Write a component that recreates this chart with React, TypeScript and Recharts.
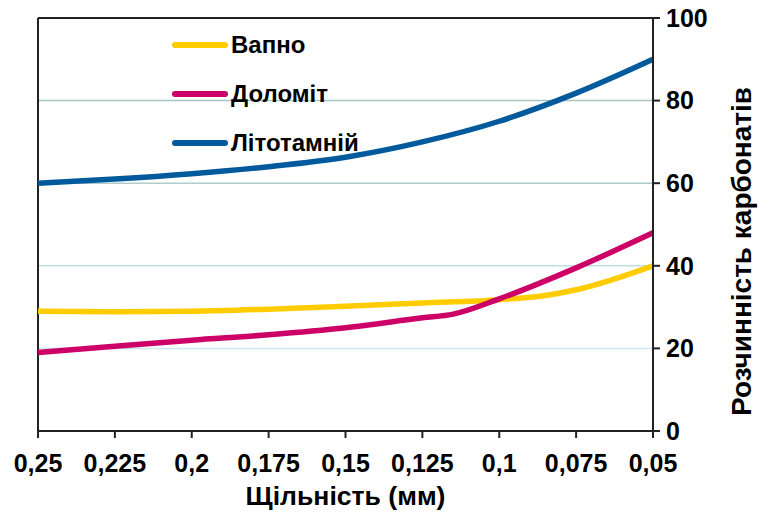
import { CartesianGrid, Line, LineChart, ReferenceLine, XAxis, YAxis } from 'recharts'

// Щільність (мм) — x values, reversed axis 0,25 → 0,05
const xTicks = [0.25, 0.225, 0.2, 0.175, 0.15, 0.125, 0.1, 0.075, 0.05]
const yTicks = [0, 20, 40, 60, 80, 100]

const vapnoX = [0.25, 0.225, 0.2, 0.175, 0.15, 0.125, 0.1, 0.085, 0.075, 0.05]
const vapnoY = [29, 28.9, 29, 29.5, 30.2, 31, 31.8, 32.8, 34.2, 40]

const dolomitX = [0.25, 0.225, 0.2, 0.175, 0.15, 0.125, 0.115, 0.1, 0.075, 0.05]
const dolomitY = [19, 20.5, 22, 23.3, 25, 27.4, 28.3, 32, 39.5, 48]

const litoX = [0.25, 0.225, 0.2, 0.175, 0.15, 0.125, 0.1, 0.075, 0.05]
const litoY = [60, 61, 62.3, 64, 66.3, 70, 75, 81.8, 90]

const gridLines = [
  { value: 80, color: '#a8c4c4' },
  { value: 60, color: '#b0cccc' },
  { value: 40, color: '#bcdfe2' },
  { value: 20, color: '#c8e8ec' },
]

const toPoints = (xs: number[], ys: number[]) => xs.map((x, i) => ({ x, y: ys[i] }))

const series = [
  { name: 'Вапно', color: '#ffcc00', data: toPoints(vapnoX, vapnoY) },
  { name: 'Доломіт', color: '#cc0066', data: toPoints(dolomitX, dolomitY) },
  { name: 'Літотамній', color: '#005a9c', data: toPoints(litoX, litoY) },
]

const font = '"Liberation Sans", Arial, sans-serif'
const tickStyle = { fill: '#000', fontSize: 25, fontWeight: 700, fontFamily: font }
const fmt = (v: number) => String(v).replace('.', ',')

function YTitle({ viewBox }: any) {
  const x = viewBox.x + viewBox.width - 16
  const y = viewBox.y + viewBox.height / 2 + 27
  return (
    <text
      x={x}
      y={y}
      transform={`rotate(-90, ${x}, ${y})`}
      textAnchor="middle"
      dominantBaseline="central"
      textLength={329}
      lengthAdjust="spacingAndGlyphs"
      style={{ ...tickStyle, fontSize: 27 }}
    >
      Розчинність карбонатів
    </text>
  )
}

function XTitle({ viewBox }: any) {
  const x = viewBox.x + viewBox.width / 2
  return (
    <text
      x={x}
      y={505}
      textAnchor="middle"
      textLength={200}
      lengthAdjust="spacingAndGlyphs"
      style={{ ...tickStyle, fontSize: 26 }}
    >
      Щільність (мм)
    </text>
  )
}

export default function App() {
  return (
    <div style={{ position: 'absolute', left: 0, top: 0, width: 758, height: 515, background: '#fff' }}>
      <LineChart width={758} height={515} margin={{ top: 18, right: 0, left: 38, bottom: 0 }}>
        <CartesianGrid horizontal={false} vertical={false} />
        {gridLines.map((g) => (
          <ReferenceLine key={g.value} y={g.value} stroke={g.color} strokeWidth={1.5} />
        ))}
        <ReferenceLine x={0.25} stroke="#222" strokeWidth={2} />
        <ReferenceLine y={100} stroke="#222" strokeWidth={2} />
        <XAxis
          type="number"
          dataKey="x"
          domain={[0.05, 0.25]}
          reversed
          ticks={xTicks}
          tickFormatter={fmt}
          interval={0}
          height={84}
          tickSize={7}
          tickMargin={16}
          stroke="#222"
          strokeWidth={2}
          tick={tickStyle}
          label={<XTitle />}
        />
        <YAxis
          orientation="right"
          domain={[0, 100]}
          ticks={yTicks}
          interval={0}
          width={105}
          tickSize={7}
          tickMargin={6}
          stroke="#222"
          strokeWidth={2}
          tick={tickStyle}
          label={<YTitle />}
        />
        {series.map((s) => (
          <Line
            key={s.name}
            data={s.data}
            dataKey="y"
            name={s.name}
            type="monotone"
            stroke={s.color}
            strokeWidth={5.5}
            dot={false}
            activeDot={false}
            isAnimationActive={false}
          />
        ))}
      </LineChart>
      <div style={{ position: 'absolute', left: 172, top: 29, fontFamily: font }}>
        {series.map((s) => (
          <div key={s.name} style={{ display: 'flex', alignItems: 'center', height: 32, marginBottom: 17 }}>
            <span style={{ width: 56, height: 6, borderRadius: 3, background: s.color, marginRight: 3 }} />
            <span style={{ fontSize: 24, fontWeight: 700, color: '#000' }}>{s.name}</span>
          </div>
        ))}
      </div>
    </div>
  )
}
